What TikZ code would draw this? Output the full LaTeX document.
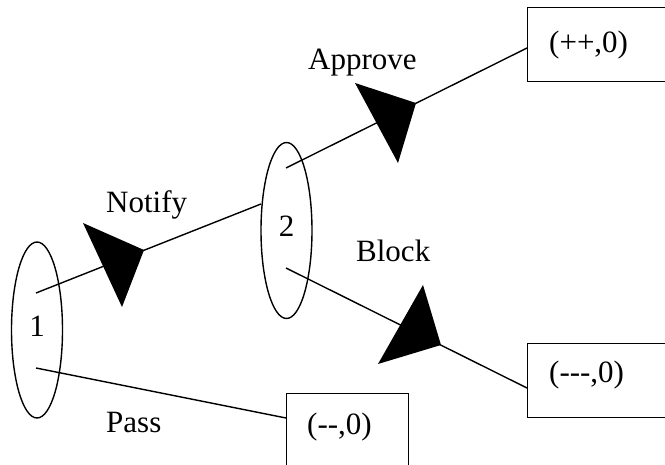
\documentclass[tikz,border=0pt]{standalone}
\usepackage{fontspec}
\setmainfont{Liberation Serif}
\usetikzlibrary{shapes.geometric}
\begin{document}
\begin{tikzpicture}[x=1pt,y=-1pt,
  every node/.style={font=\fontsize{31}{31}\selectfont},
  line/.style={line width=1.4pt},
  state/.style={ellipse,draw,line width=1.4pt,minimum width=51pt,minimum height=176pt,inner sep=0pt},
  payoff/.style={draw,line width=1.4pt,anchor=north west,inner sep=0pt},
  lbl/.style={anchor=base west,inner sep=0pt},
  tri/.style={fill=black}]
\useasboundingbox (0,0) rectangle (665,465);
% decision nodes
\node[state] (e1) at (37,330) {\raisebox{7pt}{1}};
\node[state] (e2) at (286.5,230.5) {\raisebox{8pt}{2}};
% outcome boxes
\node[payoff,minimum width=150pt,minimum height=74pt] (pp) at (527,7) {};
\node[payoff,minimum width=150pt,minimum height=74pt] (mmm) at (527,343) {};
\node[payoff,minimum width=122pt,minimum height=90pt] (mm) at (286,393) {};
\node[lbl] (tpp) at (549,53) {(++,0)};
\node[lbl] (tmmm) at (549,383) {(-{}-{}-,0)};
\node[lbl] (tmm) at (307,435) {(-{}-,0)};
% connector end points
\coordinate (n1a) at (36,293);
\coordinate (n1b) at (36,368);
\coordinate (n2in) at (261,204);
\coordinate (n2a) at (286,168);
\coordinate (n2b) at (286,268);
\coordinate (ppw) at (527,48);
\coordinate (mmmw) at (527,388);
\coordinate (mmw) at (286,418);
% connectors
\draw[line] (n1a) -- (n2in);
\draw[line] (n1b) -- (mmw);
\draw[line] (n2a) -- (ppw);
\draw[line] (n2b) -- (mmmw);
% direction triangles
\fill[tri] (83,223) -- (144,250) -- (122,307) -- cycle;
\fill[tri] (355,83) -- (416,103) -- (398,163) -- cycle;
\fill[tri] (423,285) -- (441,345) -- (378,364) -- cycle;
% labels
\node[lbl] (lnotify) at (106,213) {Notify};
\node[lbl] (lapprove) at (308,70) {Approve};
\node[lbl] (lblock) at (356,262) {Block};
\node[lbl] (lpass) at (106,432) {Pass};
\end{tikzpicture}
\end{document}
